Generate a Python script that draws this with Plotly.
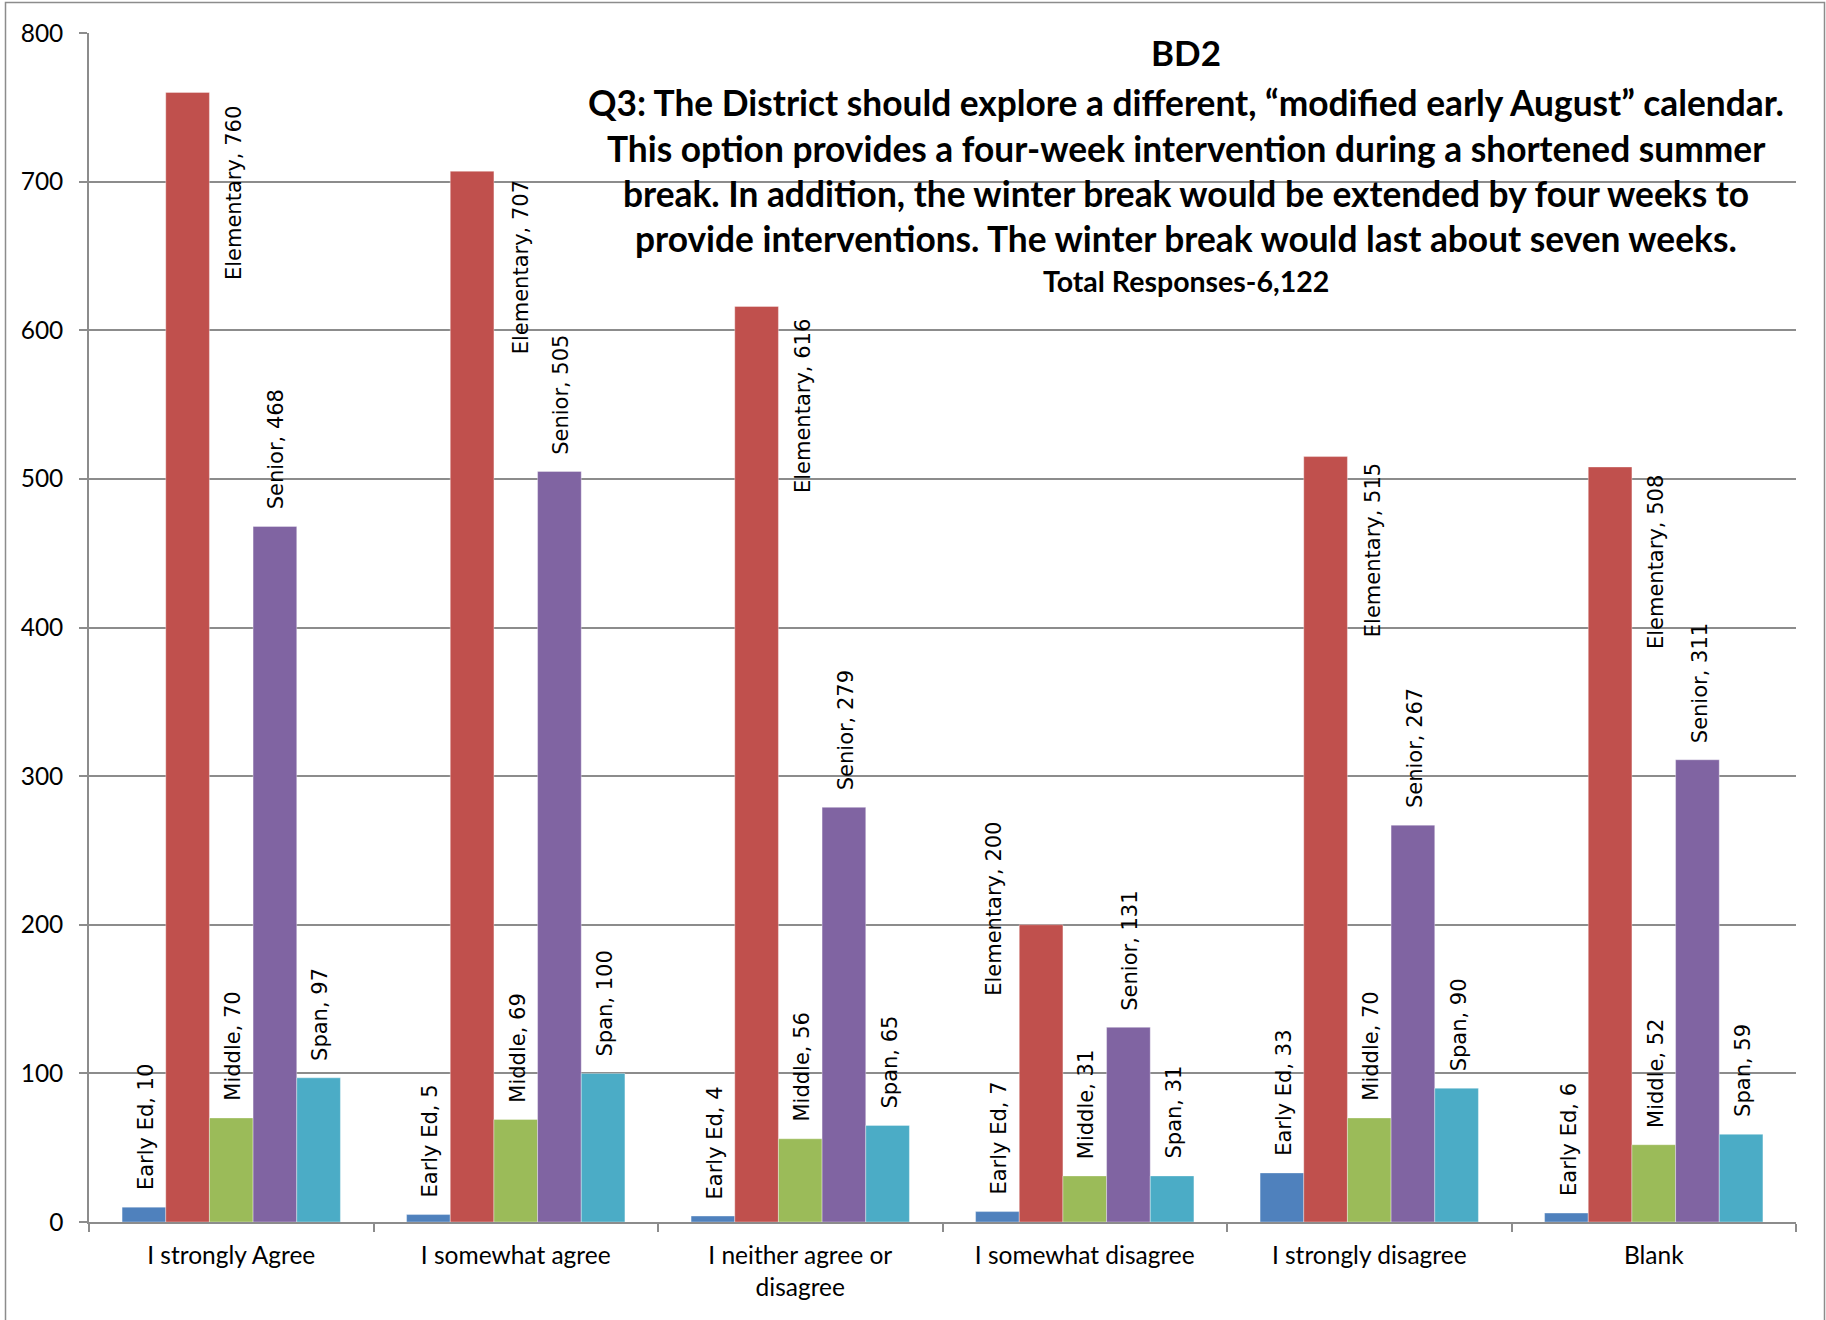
import plotly.graph_objects as go

categories = ["I strongly Agree", "I somewhat agree", "I neither agree or<br>disagree",
              "I somewhat disagree", "I strongly disagree", "Blank"]
series_names = ["Early Ed", "Elementary", "Middle", "Senior", "Span"]
early_ed = [10, 5, 4, 7, 33, 6]
elementary = [760, 707, 616, 200, 515, 508]
middle = [70, 69, 56, 31, 70, 52]
senior = [468, 505, 279, 131, 267, 311]
span = [97, 100, 65, 31, 90, 59]
y_ticks = [0, 100, 200, 300, 400, 500, 600, 700, 800]

title_main = "BD2"
title_lines = [
    "Q3: The District should explore a different, \u201cmodified early August\u201d calendar.",
    "This option provides a four-week intervention during a shortened summer",
    "break. In addition, the winter break would be extended by four weeks to",
    "provide interventions. The winter break would last about seven weeks.",
]
title_sub = "Total Responses-6,122"

colors = ["#4F81BD", "#C0504D", "#9BBB59", "#8064A2", "#4BACC6"]
all_values = [early_ed, elementary, middle, senior, span]

W, H = 1826, 1320
ML, MR, MT, MB = 89, 30, 33, 98
PW, PH = W - ML - MR, H - MT - MB


def px_x(px):
    return (px - ML) / PW


def px_y(py):
    return (H - MB - py) / PH


BARGAP = 0.2326
bar_w = (1 - BARGAP) / len(series_names)

fig = go.Figure()
x_idx = list(range(len(categories)))
for name, vals, col in zip(series_names, all_values, colors):
    fig.add_trace(go.Bar(
        x=x_idx, y=vals, name=name,
        marker=dict(color=col, line=dict(color="rgba(255,255,255,0.35)", width=1)),
    ))

label_font = dict(family="DejaVu Sans", size=21, color="#000000")
annotations = []
# Elementary label placement (beside the bar): xshift, yanchor, yshift
elem_place = [(47, "top", -12), (49, "top", -7), (47, "top", -11),
              (-47, "middle", 16), (47, "top", -5), (46, "top", -6)]
for j, (name, vals) in enumerate(zip(series_names, all_values)):
    for i, v in enumerate(vals):
        xc = i + (j - 2) * bar_w
        if name == "Elementary":
            xs, ya, ys = elem_place[i]
        else:
            xs, ya, ys = 2, "bottom", 15
        annotations.append(dict(
            x=xc, y=v, xref="x", yref="y", text=f"{name}, {v}",
            textangle=-90, showarrow=False, font=label_font,
            xanchor="center", yanchor=ya, xshift=xs, yshift=ys,
        ))

title_font = "Lato"
tx = px_x(1186)
annotations.append(dict(x=tx, y=px_y(52), xref="paper", yref="paper", text=f"<b>{title_main}</b>",
                        showarrow=False, xanchor="center", yanchor="middle",
                        font=dict(family=title_font, size=35, color="#000000")))
for k, line in enumerate(title_lines):
    annotations.append(dict(x=tx, y=px_y(103 + 45 * k), xref="paper", yref="paper",
                            text=f"<b>{line}</b>", showarrow=False,
                            xanchor="center", yanchor="middle",
                            font=dict(family=title_font, size=35.3, color="#000000")))
annotations.append(dict(x=tx, y=px_y(281), xref="paper", yref="paper", text=f"<b>{title_sub}</b>",
                        showarrow=False, xanchor="center", yanchor="middle",
                        font=dict(family=title_font, size=28.5, color="#000000")))

grid_col = "#8c8c8c"
fig.update_layout(
    width=W, height=H,
    margin=dict(l=ML, r=MR, t=MT, b=MB, pad=0),
    paper_bgcolor="white", plot_bgcolor="white",
    barmode="group", bargap=BARGAP, bargroupgap=0,
    showlegend=False,
    annotations=annotations,
    shapes=[dict(type="rect", xref="paper", yref="paper",
                 x0=px_x(5.5), x1=px_x(1824.5), y0=px_y(1330), y1=px_y(2.5),
                 line=dict(color="#8c8c8c", width=1.5), fillcolor="rgba(0,0,0,0)", layer="below")],
    font=dict(family="Lato", color="#000000"),
)
fig.update_xaxes(
    type="linear", range=[-0.5, len(categories) - 0.5],
    tickmode="array", tickvals=x_idx, ticktext=categories, ticks="",
    tickfont=dict(family="Lato", size=24.5, color="#000000"),
    showline=True, linecolor=grid_col, linewidth=1.5,
    showgrid=False, zeroline=False,
    ticklabelstandoff=11,
    minor=dict(tickmode="array", tickvals=[i - 0.5 for i in range(len(categories) + 1)],
               ticks="outside", ticklen=8, tickcolor=grid_col, tickwidth=1.5, showgrid=False),
)
fig.update_yaxes(
    range=[0, 800], tickmode="array", tickvals=y_ticks,
    ticks="outside", ticklen=8, tickcolor=grid_col, tickwidth=1.5,
    tickfont=dict(family="Lato", size=24.5, color="#000000"),
    showline=True, linecolor=grid_col, linewidth=1.5,
    showgrid=True, gridcolor=grid_col, gridwidth=1.5,
    zeroline=False, ticklabelstandoff=11,
)

fig.write_html("out.html", config={"displayModeBar": False},
               post_script="document.body.style.margin='0';")
